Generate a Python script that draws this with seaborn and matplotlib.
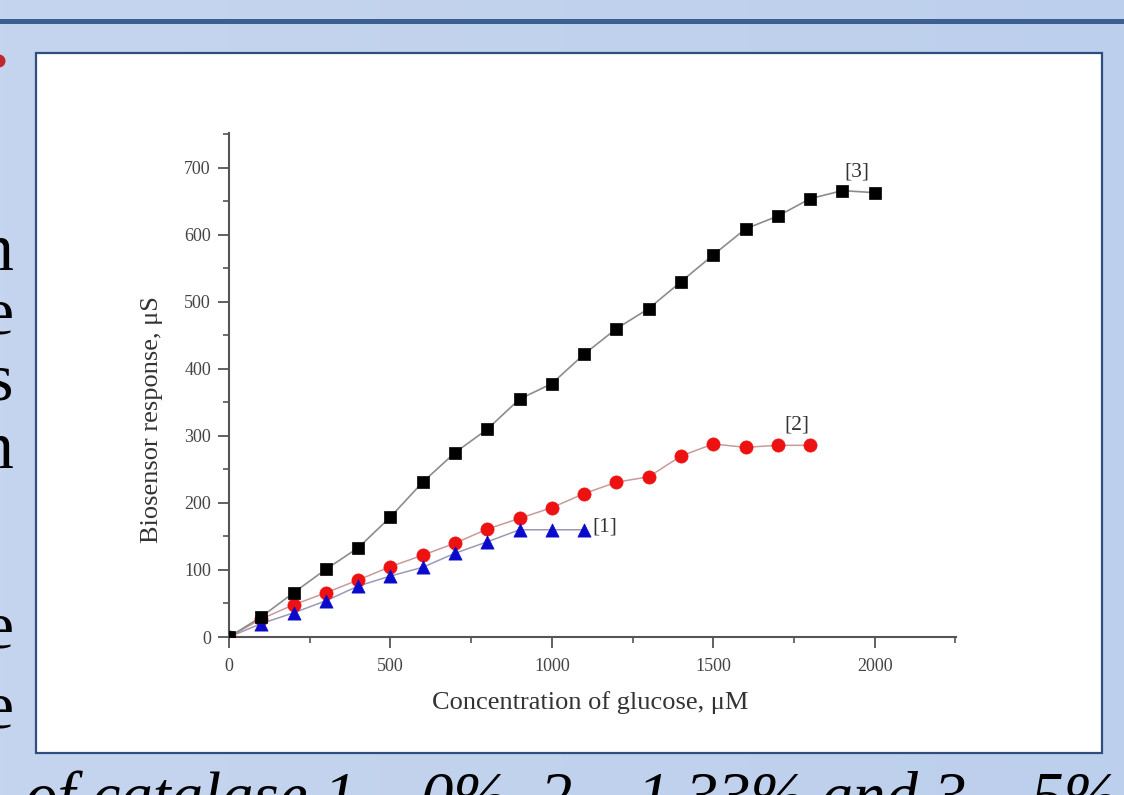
import numpy as np
import pandas as pd
import matplotlib
matplotlib.use("Agg")
import matplotlib.pyplot as plt
from matplotlib.patches import Rectangle, Circle
from matplotlib.ticker import MultipleLocator
from matplotlib.colors import LinearSegmentedColormap
import seaborn as sns

# ---------------- data ----------------
conc_1 = [0, 100, 200, 300, 400, 500, 600, 700, 800, 900, 1000, 1100]
resp_1 = [0, 20, 36, 54, 76, 91, 104, 125, 142, 160, 160, 160]

conc_2 = [0, 100, 200, 300, 400, 500, 600, 700, 800, 900, 1000, 1100, 1200,
          1300, 1400, 1500, 1600, 1700, 1800]
resp_2 = [0, 27, 48, 66, 85, 105, 122, 140, 161, 177, 193, 214, 231,
          239, 270, 288, 283, 286, 286]

conc_3 = [0, 100, 200, 300, 400, 500, 600, 700, 800, 900, 1000, 1100, 1200,
          1300, 1400, 1500, 1600, 1700, 1800, 1900, 2000]
resp_3 = [0, 30, 66, 101, 133, 179, 231, 275, 310, 355, 378, 422, 460,
          490, 530, 570, 609, 628, 654, 666, 663]

x_ticks = [0, 500, 1000, 1500, 2000]
y_ticks = [0, 100, 200, 300, 400, 500, 600, 700]
series_labels = ["[1]", "[2]", "[3]"]
x_label = "Concentration of glucose, \u03bcM"
y_label = "Biosensor response, \u03bcS"
side_letters = ["n", "e", "s", "n", "e", "e"]
caption = "of catalase 1 \u2013 0%, 2 \u2013 1.33% and 3 \u2013 5%"

# ---------------- style ----------------
sns.set_style("ticks")
plt.rcParams["font.family"] = ["Liberation Serif", "DejaVu Serif"]

W, H = 1124, 795
fig = plt.figure(figsize=(W / 100, H / 100), dpi=100)
fig.patch.set_facecolor("#C3D3EE")

# slide background layer in pixel coordinates
bg = fig.add_axes([0, 0, 1, 1], zorder=0)
bg.set_xlim(0, W)
bg.set_ylim(H, 0)
bg.axis("off")
grad = np.linspace(0, 1, 256).reshape(1, -1)
cmap = LinearSegmentedColormap.from_list("slide", ["#C6D5EF", "#BCCFEC"])
bg.imshow(grad, extent=(0, W, H, 0), aspect="auto", cmap=cmap, zorder=0)

bg.add_patch(Rectangle((0, 19), W, 5, facecolor="#3B5F8E", edgecolor="none", zorder=1))
bg.add_patch(Rectangle((36, 53), 1066, 700, facecolor="white",
                       edgecolor="#2E4E7E", linewidth=1.6, zorder=1))
bg.add_patch(Circle((-1, 61), 6.5, facecolor="#C0262D", edgecolor="none", zorder=1))

for ch, yb in zip(side_letters, [270, 334, 400, 468, 648, 728]):
    bg.text(13, yb, ch, ha="right", va="baseline", fontsize=49,
            color="black", zorder=2)

bg.text(25, 817, caption, ha="left", va="baseline", fontsize=46.6,
        style="italic", color="black", zorder=2)

# ---------------- chart ----------------
ax = fig.add_axes([229 / W, 1 - 637 / H, 727 / W, 504 / H], zorder=3)
ax.set_facecolor("none")

sns.lineplot(x=conc_2, y=resp_2, ax=ax, color="#c89a9a", linewidth=1.1, zorder=2)
sns.lineplot(x=conc_1, y=resp_1, ax=ax, color="#9a9ab8", linewidth=1.1, zorder=2)
sns.lineplot(x=conc_3, y=resp_3, ax=ax, color="#8c8c8c", linewidth=1.2, zorder=2)

sns.scatterplot(x=conc_2, y=resp_2, ax=ax, marker="o", s=90, color="#EE1111",
                edgecolor="#EE1111", linewidth=0.5, zorder=4)
sns.scatterplot(x=conc_1, y=resp_1, ax=ax, marker="^", s=90, color="#0A0ACC",
                edgecolor="#0A0ACC", linewidth=0.5, zorder=5)
sns.scatterplot(x=conc_3, y=resp_3, ax=ax, marker="s", s=66, color="black",
                edgecolor="black", linewidth=0.5, zorder=6)

ax.text(1127, 164, series_labels[0], ha="left", va="center", fontsize=15.5, color="#333333")
ax.text(1760, 316, series_labels[1], ha="center", va="center", fontsize=15.5, color="#333333")
ax.text(1945, 694, series_labels[2], ha="center", va="center", fontsize=15.5, color="#333333")

ax.set_xlim(0, 2252)
ax.set_ylim(0, 752)
ax.set_xticks(x_ticks)
ax.set_yticks(y_ticks)
ax.xaxis.set_minor_locator(MultipleLocator(250))
ax.yaxis.set_minor_locator(MultipleLocator(50))

for side in ["top", "right"]:
    ax.spines[side].set_visible(False)
for side in ["left", "bottom"]:
    ax.spines[side].set_color("#555555")
    ax.spines[side].set_linewidth(1.5)

ax.tick_params(which="major", direction="out", length=8, width=1.3,
               color="#555555", labelcolor="#444444", labelsize=13, pad=5)
ax.tick_params(which="minor", direction="out", length=4.5, width=1.2,
               color="#555555")
ax.tick_params(axis="x", which="major", pad=7)

ax.set_xlabel(x_label, fontsize=19, color="#333333", va="center", ha="center")
ax.set_ylabel(y_label, fontsize=19, color="#333333", va="center", ha="center")
ax.xaxis.set_label_coords((590 - 229) / 727, (637 - 703) / 504)
ax.yaxis.set_label_coords((152 - 229) / 727, (637 - 420) / 504)

fig.savefig("out.png", dpi=100, facecolor=fig.get_facecolor())
